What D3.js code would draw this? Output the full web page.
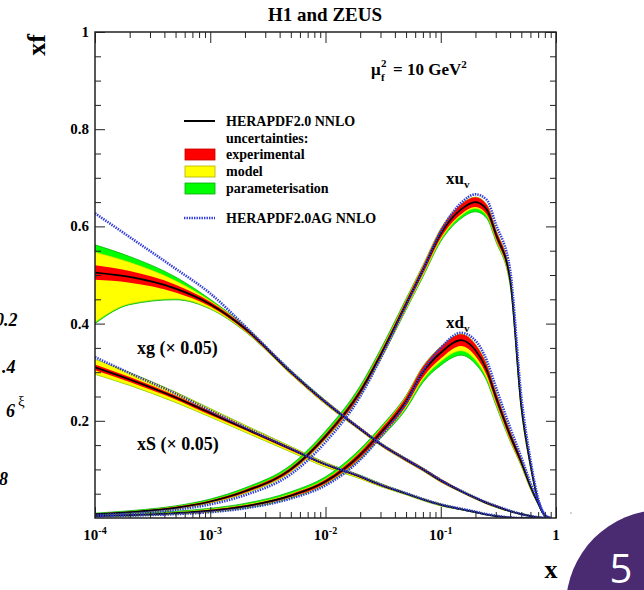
<!DOCTYPE html>
<html>
<head>
<meta charset="utf-8">
<script src="https://cdn.jsdelivr.net/npm/d3@7"></script>
<style>
  body { margin: 0; background: #fff; }
  svg text { font-family: "Liberation Serif", "Times New Roman", serif; font-weight: bold; }
</style>
</head>
<body>
<svg id="chart" width="644" height="590"></svg>
<script>
// x grid shared by all curves
var xGrid = [1e-4, 2e-4, 5e-4, 1e-3, 2e-3, 5e-3, 0.01, 0.02, 0.03, 0.05, 0.07, 0.1, 0.15, 0.2, 0.25, 0.3, 0.4, 0.5, 0.6, 0.7, 0.8, 0.9];

// xu_v
var uvCentral = [0.008,0.012,0.021,0.034,0.055,0.1,0.168,0.26,0.335,0.44,0.51,0.585,0.635,0.65,0.635,0.585,0.49,0.23,0.11,0.035,0.005,0];
var uvExp     = [0.001,0.001,0.002,0.002,0.003,0.004,0.005,0.006,0.006,0.007,0.008,0.009,0.01,0.01,0.01,0.009,0.008,0.006,0.004,0.002,0.001,0];
var uvModUp   = [0.001,0.001,0.002,0.002,0.003,0.004,0.005,0.006,0.007,0.008,0.009,0.01,0.01,0.01,0.01,0.009,0.008,0.006,0.004,0.002,0.001,0];
var uvModDn   = [0.001,0.002,0.003,0.003,0.004,0.005,0.006,0.007,0.008,0.01,0.011,0.012,0.013,0.013,0.012,0.011,0.009,0.007,0.005,0.002,0.001,0];
var uvParUp   = [0.002,0.003,0.004,0.005,0.007,0.009,0.011,0.012,0.012,0.011,0.01,0.01,0.01,0.01,0.01,0.009,0.008,0.006,0.004,0.002,0.001,0];
var uvParDn   = [0.001,0.002,0.003,0.003,0.004,0.005,0.006,0.008,0.009,0.012,0.014,0.016,0.019,0.02,0.018,0.015,0.011,0.008,0.005,0.002,0.001,0];
var uvAg      = [0.006,0.009,0.017,0.028,0.047,0.09,0.156,0.25,0.328,0.437,0.51,0.59,0.648,0.666,0.655,0.605,0.51,0.25,0.12,0.04,0.006,0];

// xd_v
var dvCentral = [0.004,0.006,0.01,0.015,0.024,0.046,0.075,0.13,0.175,0.24,0.3,0.34,0.366,0.345,0.305,0.25,0.17,0.115,0.065,0.03,0.005,0];
var dvExp     = [0.001,0.001,0.001,0.002,0.002,0.003,0.004,0.006,0.007,0.009,0.011,0.012,0.012,0.012,0.011,0.01,0.008,0.006,0.004,0.002,0.001,0];
var dvModUp   = [0.001,0.002,0.002,0.003,0.003,0.004,0.005,0.007,0.008,0.01,0.011,0.012,0.012,0.012,0.011,0.01,0.008,0.006,0.004,0.002,0.001,0];
var dvModDn   = [0.001,0.002,0.002,0.003,0.003,0.004,0.005,0.007,0.009,0.012,0.015,0.018,0.022,0.02,0.017,0.013,0.01,0.007,0.005,0.002,0.001,0];
var dvParUp   = [0.002,0.003,0.004,0.005,0.006,0.008,0.01,0.012,0.012,0.012,0.012,0.012,0.012,0.012,0.011,0.01,0.008,0.006,0.004,0.002,0.001,0];
var dvParDn   = [0.001,0.002,0.002,0.003,0.004,0.005,0.006,0.009,0.011,0.016,0.021,0.026,0.031,0.028,0.022,0.017,0.012,0.008,0.005,0.002,0.001,0];
var dvAg      = [0.003,0.005,0.008,0.012,0.02,0.04,0.067,0.12,0.167,0.236,0.302,0.35,0.381,0.365,0.325,0.27,0.186,0.125,0.072,0.034,0.007,0];

// xg (x 0.05)
var gCentral = [0.505,0.496,0.472,0.44,0.39,0.3,0.238,0.183,0.152,0.12,0.1,0.077,0.055,0.041,0.031,0.024,0.014,0.008,0.004,0.0015,0.0003,0];
var gExp     = [0.015,0.012,0.008,0.005,0.004,0.003,0.003,0.003,0.003,0.003,0.003,0.003,0.002,0.002,0.002,0.002,0.001,0.001,0.001,0,0,0];
var gModUp   = [0.042,0.03,0.016,0.007,0.004,0.003,0.003,0.003,0.003,0.003,0.003,0.003,0.002,0.002,0.002,0.002,0.001,0.001,0.001,0,0,0];
var gModDn   = [0.102,0.055,0.021,0.009,0.005,0.004,0.004,0.003,0.003,0.003,0.003,0.003,0.002,0.002,0.002,0.002,0.001,0.001,0.001,0,0,0];
var gParUp   = [0.057,0.042,0.024,0.01,0.005,0.004,0.004,0.003,0.003,0.003,0.003,0.003,0.002,0.002,0.002,0.002,0.001,0.001,0.001,0,0,0];
var gParDn   = [0.105,0.057,0.023,0.01,0.006,0.004,0.004,0.003,0.003,0.003,0.003,0.003,0.002,0.002,0.002,0.002,0.001,0.001,0.001,0,0,0];
var gAg      = [0.627,0.578,0.513,0.462,0.395,0.302,0.239,0.184,0.153,0.121,0.101,0.078,0.056,0.042,0.032,0.025,0.015,0.008,0.004,0.0015,0.0003,0];

// xS (x 0.05)
var sCentral = [0.31,0.285,0.248,0.216,0.184,0.142,0.11,0.085,0.068,0.05,0.038,0.027,0.018,0.012,0.007,0.004,0.001,0,0,0,0,0];
var sExp     = [0.006,0.005,0.004,0.004,0.003,0.003,0.002,0.002,0.002,0.001,0.001,0.001,0.001,0,0,0,0,0,0,0,0,0];
var sModUp   = [0.016,0.014,0.011,0.009,0.007,0.005,0.004,0.003,0.003,0.002,0.002,0.002,0.001,0.001,0,0,0,0,0,0,0,0];
var sModDn   = [0.014,0.012,0.01,0.008,0.007,0.006,0.005,0.004,0.003,0.002,0.002,0.002,0.001,0.001,0,0,0,0,0,0,0,0];
var sParUp   = [0.016,0.014,0.011,0.009,0.007,0.005,0.004,0.003,0.003,0.002,0.002,0.002,0.001,0.001,0,0,0,0,0,0,0,0];
var sParDn   = [0.014,0.012,0.01,0.008,0.007,0.006,0.005,0.004,0.003,0.002,0.002,0.002,0.001,0.001,0,0,0,0,0,0,0,0];
var sAg      = [0.331,0.298,0.256,0.221,0.187,0.143,0.111,0.086,0.069,0.051,0.039,0.028,0.019,0.013,0.008,0.005,0.001,0,0,0,0,0];

var xMajor = [1e-4, 1e-3, 1e-2, 1e-1, 1];
var xMajorLabels = [["10","-4"],["10","-3"],["10","-2"],["10","-1"],["1",""]];
var yLabelled = [0.2, 0.4, 0.6, 0.8, 1];

var svg = d3.select("#chart");

var x = d3.scaleLog().domain([1e-4, 1]).range([95, 556]);
var y = d3.scaleLinear().domain([0, 1]).range([518, 32]);

// minor ticks
var xMinor = [];
for (var e = -4; e < 0; e++) {
  for (var k = 2; k <= 9; k++) xMinor.push(k * Math.pow(10, e));
}
var yMinor = d3.range(0.05, 1, 0.05).filter(function(v){ return Math.abs(v*5 - Math.round(v*5)) > 1e-6; });

svg.append("defs").append("clipPath").attr("id", "plotclip")
  .append("rect").attr("x", 95).attr("y", 32).attr("width", 461).attr("height", 486);

var plot = svg.append("g").attr("clip-path", "url(#plotclip)");

var pdfs = [
  {c: gCentral, exp: gExp, mu: gModUp, md: gModDn, pu: gParUp, pd: gParDn, ag: gAg},
  {c: sCentral, exp: sExp, mu: sModUp, md: sModDn, pu: sParUp, pd: sParDn, ag: sAg},
  {c: uvCentral, exp: uvExp, mu: uvModUp, md: uvModDn, pu: uvParUp, pd: uvParDn, ag: uvAg},
  {c: dvCentral, exp: dvExp, mu: dvModUp, md: dvModDn, pu: dvParUp, pd: dvParDn, ag: dvAg}
];

var area = d3.area()
  .x(function(d){ return x(d.x); })
  .y0(function(d){ return y(d.lo); })
  .y1(function(d){ return y(d.hi); })
  .curve(d3.curveMonotoneX);

var line = d3.line()
  .x(function(d){ return x(d.x); })
  .y(function(d){ return y(d.v); })
  .curve(d3.curveMonotoneX);

function band(c, dn, up) {
  return xGrid.map(function(xv, i){
    return {x: xv, lo: Math.max(0, c[i] - dn[i]), hi: c[i] + up[i]};
  });
}
function series(v) {
  return xGrid.map(function(xv, i){ return {x: xv, v: v[i]}; });
}

pdfs.forEach(function(p){
  plot.append("path").datum(band(p.c, p.pd, p.pu)).attr("d", area)
    .attr("fill", "#00ff00").attr("stroke", "#11b011").attr("stroke-width", 0.8);
  plot.append("path").datum(band(p.c, p.md, p.mu)).attr("d", area)
    .attr("fill", "#ffff00").attr("stroke", "#d8d800").attr("stroke-width", 0.6);
  plot.append("path").datum(band(p.c, p.exp, p.exp)).attr("d", area)
    .attr("fill", "#ff0000");
});
pdfs.forEach(function(p){
  plot.append("path").datum(series(p.c)).attr("d", line)
    .attr("fill", "none").attr("stroke", "#000").attr("stroke-width", 1.7);
});
pdfs.forEach(function(p){
  plot.append("path").datum(series(p.ag)).attr("d", line)
    .attr("fill", "none").attr("stroke", "#2f3ad8").attr("stroke-width", 2.6)
    .attr("stroke-dasharray", "1.4,1.1");
});

// axes, ticks inside on all four sides
function styleAxis(g) {
  g.select(".domain").remove();
  g.selectAll("line").attr("stroke", "#222").attr("stroke-width", 1);
  g.selectAll("text").remove();
}
svg.append("g").attr("transform", "translate(0,518)")
  .call(d3.axisBottom(x).tickValues(xMajor).tickSizeInner(-11).tickSizeOuter(0)).call(styleAxis);
svg.append("g").attr("transform", "translate(0,518)")
  .call(d3.axisBottom(x).tickValues(xMinor).tickSizeInner(-6).tickSizeOuter(0)).call(styleAxis);
svg.append("g").attr("transform", "translate(0,32)")
  .call(d3.axisTop(x).tickValues(xMajor).tickSizeInner(-11).tickSizeOuter(0)).call(styleAxis);
svg.append("g").attr("transform", "translate(0,32)")
  .call(d3.axisTop(x).tickValues(xMinor).tickSizeInner(-6).tickSizeOuter(0)).call(styleAxis);
svg.append("g").attr("transform", "translate(95,0)")
  .call(d3.axisLeft(y).tickValues(yLabelled).tickSizeInner(-10).tickSizeOuter(0)).call(styleAxis);
svg.append("g").attr("transform", "translate(95,0)")
  .call(d3.axisLeft(y).tickValues(yMinor).tickSizeInner(-6).tickSizeOuter(0)).call(styleAxis);
svg.append("g").attr("transform", "translate(556,0)")
  .call(d3.axisRight(y).tickValues(yLabelled).tickSizeInner(-10).tickSizeOuter(0)).call(styleAxis);
svg.append("g").attr("transform", "translate(556,0)")
  .call(d3.axisRight(y).tickValues(yMinor).tickSizeInner(-6).tickSizeOuter(0)).call(styleAxis);

svg.append("rect").attr("x", 95).attr("y", 32).attr("width", 461).attr("height", 486)
  .attr("fill", "none").attr("stroke", "#222").attr("stroke-width", 1.5);

// tick labels
xMajor.forEach(function(v, i){
  var t = svg.append("text").attr("x", x(v)).attr("y", 540).attr("text-anchor", "middle")
    .style("font-size", "15px");
  t.append("tspan").text(xMajorLabels[i][0]);
  if (xMajorLabels[i][1]) {
    t.append("tspan").attr("dy", -6).style("font-size", "10px").text(xMajorLabels[i][1]);
  }
});
yLabelled.forEach(function(v){
  svg.append("text").attr("x", 89).attr("y", y(v) + 5).attr("text-anchor", "end")
    .style("font-size", "15px").text(v === 1 ? "1" : d3.format(".1f")(v));
});

// titles
svg.append("text").attr("x", 325).attr("y", 21).attr("text-anchor", "middle")
  .style("font-size", "19px").text("H1 and ZEUS");
svg.append("text").attr("transform", "translate(45,45) rotate(-90)").attr("text-anchor", "middle")
  .style("font-size", "26px").text("xf");
svg.append("text").attr("x", 551).attr("y", 578).attr("text-anchor", "middle")
  .style("font-size", "26px").text("x");

// scale label: mu_f^2 = 10 GeV^2
svg.append("text").attr("x", 371).attr("y", 75).style("font-size", "17px").text("\u03bc");
svg.append("text").attr("x", 381).attr("y", 67).style("font-size", "11px").text("2");
svg.append("text").attr("x", 381).attr("y", 81).style("font-size", "11px").text("f");
var gev = svg.append("text").attr("x", 393).attr("y", 75).style("font-size", "17px");
gev.append("tspan").text("= 10 GeV");
gev.append("tspan").attr("dy", -7).style("font-size", "11px").text("2");

// curve labels
function subLabel(xp, yp, main, sub) {
  var t = svg.append("text").attr("x", xp).attr("y", yp).style("font-size", "17px");
  t.append("tspan").text(main);
  t.append("tspan").attr("dy", 4).style("font-size", "11px").text(sub);
}
subLabel(446, 184, "xu", "v");
subLabel(446, 328, "xd", "v");
svg.append("text").attr("x", 137).attr("y", 354).style("font-size", "18px").text("xg (\u00d7 0.05)");
svg.append("text").attr("x", 137).attr("y", 450).style("font-size", "18px").text("xS (\u00d7 0.05)");

// legend
var lg = svg.append("g").style("font-size", "14px");
lg.append("line").attr("x1", 184).attr("x2", 215).attr("y1", 121).attr("y2", 121)
  .attr("stroke", "#000").attr("stroke-width", 2);
lg.append("text").attr("x", 226).attr("y", 126).text("HERAPDF2.0 NNLO");
lg.append("text").attr("x", 226).attr("y", 143).text("uncertainties:");
[["#ff0000", "#c00000", 149, "experimental"], ["#ffff00", "#b0b000", 166, "model"], ["#00ff00", "#10a010", 183, "parameterisation"]]
  .forEach(function(r){
    lg.append("rect").attr("x", 185).attr("y", r[2]).attr("width", 30).attr("height", 11)
      .attr("fill", r[0]).attr("stroke", r[1]).attr("stroke-width", 0.8);
    lg.append("text").attr("x", 226).attr("y", r[2] + 10).text(r[3]);
  });
lg.append("line").attr("x1", 184).attr("x2", 215).attr("y1", 218).attr("y2", 218)
  .attr("stroke", "#2f3ad8").attr("stroke-width", 2.6).attr("stroke-dasharray", "1.4,1.1");
lg.append("text").attr("x", 226).attr("y", 223).text("HERAPDF2.0AG NNLO");

// slide remnants around the chart (partly cut by the page edge, as in the photo)
var side = svg.append("g").style("font-family", "'DejaVu Sans Mono', monospace")
  .style("font-style", "italic").style("font-size", "18px");
side.append("text").attr("x", -5).attr("y", 326).text("0.2");
side.append("text").attr("x", 2).attr("y", 373).text(".4");
side.append("text").attr("x", 6).attr("y", 417).text("6");
side.append("text").attr("x", -1).attr("y", 485).text("8");
svg.append("text").attr("x", 18).attr("y", 406).style("font-size", "15px").style("font-weight", "normal")
  .text("\u03be");
svg.append("circle").attr("cx", 571).attr("cy", 513).attr("r", 0.8).attr("fill", "#8899aa");

svg.append("circle").attr("cx", 662).attr("cy", 606).attr("r", 96).attr("fill", "#4a2b72");
svg.append("text").attr("x", 621).attr("y", 583).attr("text-anchor", "middle")
  .style("font-family", "'Open Sans', sans-serif").style("font-weight", "normal")
  .style("font-size", "40px").attr("fill", "#fff").text("5");
</script>
</body>
</html>
